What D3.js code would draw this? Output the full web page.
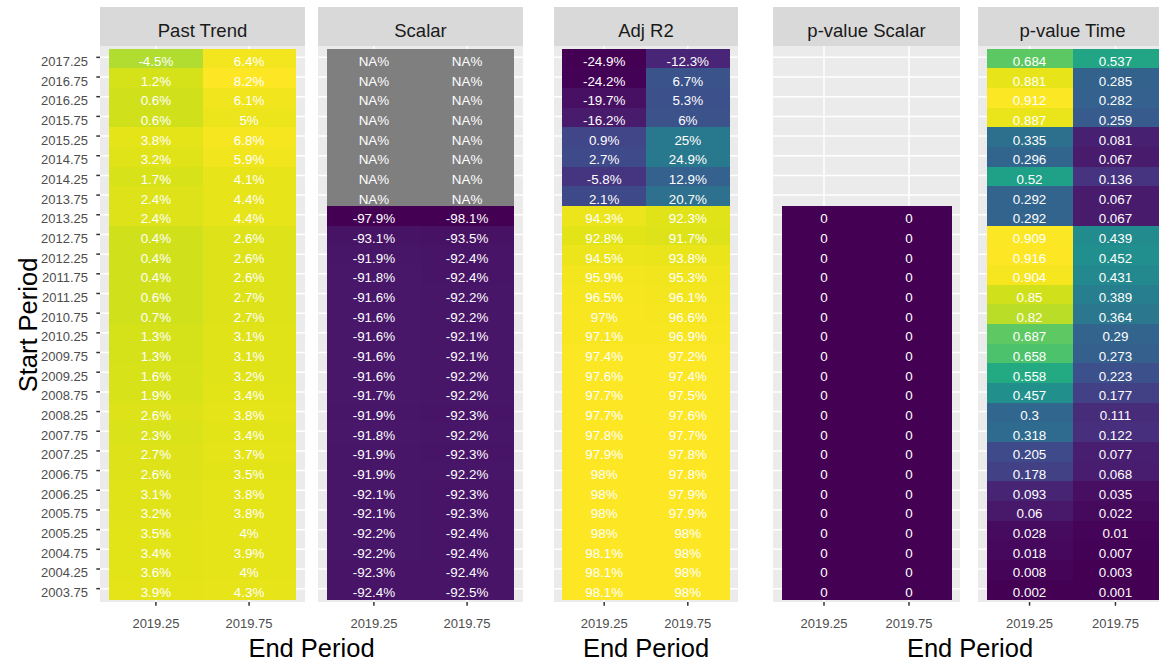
<!DOCTYPE html>
<html>
<head>
<meta charset="utf-8">
<script src="https://cdn.jsdelivr.net/npm/d3@7"></script>
<style>
  html, body { margin: 0; padding: 0; background: #ffffff; }
  svg { display: block; font-family: "Liberation Sans", Arial, sans-serif; }
</style>
</head>
<body>
<svg id="chart" width="1159" height="662"></svg>
<script>
// Start periods (rows, top to bottom) and end periods (columns)
const startPeriods = ["2017.25","2016.75","2016.25","2015.75","2015.25","2014.75","2014.25","2013.75",
  "2013.25","2012.75","2012.25","2011.75","2011.25","2010.75","2010.25","2009.75","2009.25","2008.75",
  "2008.25","2007.75","2007.25","2006.75","2006.25","2005.75","2005.25","2004.75","2004.25","2003.75"];
const endPeriods = [2019.25, 2019.75];

// Past trend (%)
const pastTrend1925 = [-4.5,1.2,0.6,0.6,3.8,3.2,1.7,2.4,2.4,0.4,0.4,0.4,0.6,0.7,1.3,1.3,1.6,1.9,2.6,2.3,2.7,2.6,3.1,3.2,3.5,3.4,3.6,3.9];
const pastTrend1975 = [6.4,8.2,6.1,5,6.8,5.9,4.1,4.4,4.4,2.6,2.6,2.6,2.7,2.7,3.1,3.1,3.2,3.4,3.8,3.4,3.7,3.5,3.8,3.8,4,3.9,4,4.3];

// Scalar (%), null = not estimated
const scalar1925 = [null,null,null,null,null,null,null,null,-97.9,-93.1,-91.9,-91.8,-91.6,-91.6,-91.6,-91.6,-91.6,-91.7,-91.9,-91.8,-91.9,-91.9,-92.1,-92.1,-92.2,-92.2,-92.3,-92.4];
const scalar1975 = [null,null,null,null,null,null,null,null,-98.1,-93.5,-92.4,-92.4,-92.2,-92.2,-92.1,-92.1,-92.2,-92.2,-92.3,-92.2,-92.3,-92.2,-92.3,-92.3,-92.4,-92.4,-92.4,-92.5];

// Adjusted R squared (%)
const adjR2_1925 = [-24.9,-24.2,-19.7,-16.2,0.9,2.7,-5.8,2.1,94.3,92.8,94.5,95.9,96.5,97,97.1,97.4,97.6,97.7,97.7,97.8,97.9,98,98,98,98,98.1,98.1,98.1];
const adjR2_1975 = [-12.3,6.7,5.3,6,25,24.9,12.9,20.7,92.3,91.7,93.8,95.3,96.1,96.6,96.9,97.2,97.4,97.5,97.6,97.7,97.8,97.8,97.9,97.9,98,98,98,98];

// p-values
const pScalar1925 = [null,null,null,null,null,null,null,null,0,0,0,0,0,0,0,0,0,0,0,0,0,0,0,0,0,0,0,0];
const pScalar1975 = [null,null,null,null,null,null,null,null,0,0,0,0,0,0,0,0,0,0,0,0,0,0,0,0,0,0,0,0];
const pTime1925 = [0.684,0.881,0.912,0.887,0.335,0.296,0.52,0.292,0.292,0.909,0.916,0.904,0.85,0.82,0.687,0.658,0.558,0.457,0.3,0.318,0.205,0.178,0.093,0.06,0.028,0.018,0.008,0.002];
const pTime1975 = [0.537,0.285,0.282,0.259,0.081,0.067,0.136,0.067,0.067,0.439,0.452,0.431,0.389,0.364,0.29,0.273,0.223,0.177,0.111,0.122,0.077,0.068,0.035,0.022,0.01,0.007,0.003,0.001];

const pct = v => v === null ? "NA%" : `${v}%`;
const num = v => `${v}`;

// Facets: each group shares its own colour scale
const groups = [
  { panels: [
      { title: "Past Trend", x0: 100, x1: 305, cols: [pastTrend1925, pastTrend1975], fmt: pct, dropNA: false },
      { title: "Scalar",     x0: 318, x1: 523, cols: [scalar1925, scalar1975],       fmt: pct, dropNA: false } ],
    yAxis: true },
  { panels: [
      { title: "Adj R2",     x0: 554, x1: 738, cols: [adjR2_1925, adjR2_1975],       fmt: pct, dropNA: false } ],
    yAxis: false },
  { panels: [
      { title: "p-value Scalar", x0: 773, x1: 960,  cols: [pScalar1925, pScalar1975], fmt: num, dropNA: true },
      { title: "p-value Time",   x0: 978, x1: 1167, cols: [pTime1925, pTime1975],     fmt: num, dropNA: true } ],
    yAxis: false }
];

const svg = d3.select("#chart");
const stripTop = 7, panelTop = 46, panelBottom = 602;
const y = d3.scaleBand().domain(startPeriods).range([48.5, 599.5]).padding(0);

groups.forEach(group => {
  const all = group.panels.flatMap(p => p.cols.flat()).filter(v => v !== null);
  const color = d3.scaleSequential(d3.interpolateViridis).domain(d3.extent(all));

  group.panels.forEach(p => {
    const x = d3.scaleLinear().domain([2018.95, 2020.05]).range([p.x0, p.x1]);
    const g = svg.append("g");

    // strip
    g.append("rect").attr("x", p.x0).attr("y", stripTop).attr("width", p.x1 - p.x0)
      .attr("height", panelTop - stripTop).attr("fill", "#d9d9d9");
    g.append("text").attr("x", (p.x0 + p.x1) / 2).attr("y", 36.5)
      .attr("text-anchor", "middle").attr("font-size", 18.5).attr("fill", "#1a1a1a").text(p.title);

    // panel background and grid
    g.append("rect").attr("x", p.x0).attr("y", panelTop).attr("width", p.x1 - p.x0)
      .attr("height", panelBottom - panelTop).attr("fill", "#ebebeb");
    g.selectAll(".gy").data(startPeriods).join("line")
      .attr("x1", p.x0).attr("x2", p.x1)
      .attr("y1", d => y(d) + y.bandwidth() / 2 - 1).attr("y2", d => y(d) + y.bandwidth() / 2 - 1)
      .attr("stroke", "#ffffff").attr("stroke-width", 1.5);
    g.selectAll(".gx").data(endPeriods).join("line")
      .attr("x1", d => x(d)).attr("x2", d => x(d))
      .attr("y1", panelTop).attr("y2", panelBottom)
      .attr("stroke", "#ffffff").attr("stroke-width", 1.5);

    // tiles
    const cells = [];
    p.cols.forEach((col, ci) => col.forEach((v, ri) => {
      if (v === null && p.dropNA) return;
      cells.push({ end: endPeriods[ci], start: startPeriods[ri], v });
    }));
    g.selectAll(".tile").data(cells).join("rect")
      .attr("shape-rendering", "crispEdges")
      .attr("x", d => x(d.end - 0.25)).attr("width", d => x(d.end + 0.25) - x(d.end - 0.25) + 0.5)
      .attr("y", d => y(d.start)).attr("height", y.bandwidth() + 0.5)
      .attr("fill", d => d.v === null ? "#7f7f7f" : color(d.v));
    g.selectAll(".lab").data(cells).join("text")
      .attr("x", d => x(d.end)).attr("y", d => y(d.start) + y.bandwidth() / 2 + 7.5)
      .attr("text-anchor", "middle").attr("font-size", 13.4).attr("fill", "#ffffff")
      .text(d => p.fmt(d.v));

    // x axis ticks and labels
    g.selectAll(".tx").data(endPeriods).join("line")
      .attr("x1", d => x(d)).attr("x2", d => x(d))
      .attr("y1", panelBottom).attr("y2", panelBottom + 3.7)
      .attr("stroke", "#333333").attr("stroke-width", 1.5);
    g.selectAll(".lx").data(endPeriods).join("text")
      .attr("x", d => x(d)).attr("y", 628)
      .attr("text-anchor", "middle").attr("font-size", 13).attr("fill", "#4d4d4d")
      .text(d => d3.format(".2f")(d));
  });

  // x axis title centred under the group
  const gx0 = group.panels[0].x0, gx1 = group.panels[group.panels.length - 1].x1;
  svg.append("text").attr("x", (gx0 + gx1) / 2).attr("y", 657)
    .attr("text-anchor", "middle").attr("font-size", 25.5).attr("fill", "#000000").text("End Period");

  // y axis
  if (group.yAxis) {
    const px = group.panels[0].x0;
    svg.selectAll(".ty").data(startPeriods).join("line")
      .attr("x1", px - 3.7).attr("x2", px)
      .attr("y1", d => y(d) + y.bandwidth() / 2 - 1).attr("y2", d => y(d) + y.bandwidth() / 2 - 1)
      .attr("stroke", "#333333").attr("stroke-width", 1.5);
    svg.selectAll(".ly").data(startPeriods).join("text")
      .attr("x", px - 12).attr("y", d => y(d) + y.bandwidth() / 2 + 7.5)
      .attr("text-anchor", "end").attr("font-size", 13).attr("fill", "#4d4d4d").text(d => d);
  }
});

// y axis title
svg.append("text").attr("transform", "translate(37,325) rotate(-90)")
  .attr("text-anchor", "middle").attr("font-size", 25.5).attr("fill", "#000000").text("Start Period");
</script>
</body>
</html>
